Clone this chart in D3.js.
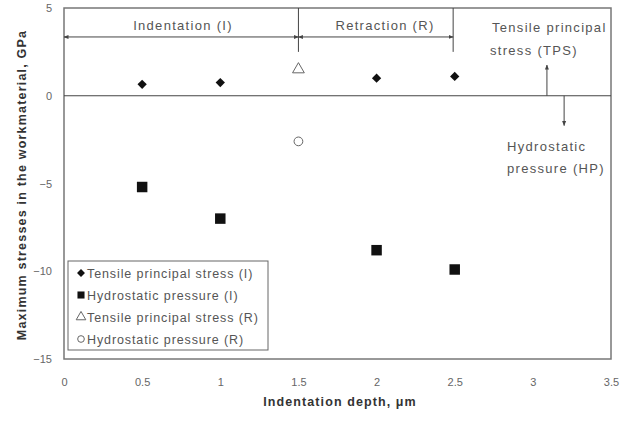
<!DOCTYPE html>
<html>
<head>
<meta charset="utf-8">
<script src="https://cdn.jsdelivr.net/npm/d3@7"></script>
<style>
  body { margin: 0; background: #fff; }
  text { font-family: "Liberation Sans", Arial, sans-serif; }
</style>
</head>
<body>
<script>
// Data
const tpsIDepth = [0.5, 1, 2, 2.5];
const tpsIValue = [0.65, 0.75, 1.0, 1.1];
const hpIDepth = [0.5, 1, 2, 2.5];
const hpIValue = [-5.2, -7.0, -8.8, -9.9];
const tpsRDepth = [1.5];
const tpsRValue = [1.5];
const hpRDepth = [1.5];
const hpRValue = [-2.6];
const xTicks = [0, 0.5, 1, 1.5, 2, 2.5, 3, 3.5];
const yTicks = [5, 0, -5, -10, -15];
const legendLabels = ['Tensile principal stress (I)', 'Hydrostatic pressure (I)',
  'Tensile principal stress (R)', 'Hydrostatic pressure (R)'];

const width = 637, height = 423;
const margin = { left: 64, right: 26, top: 8, bottom: 64 };

const svg = d3.select('body').append('svg')
    .attr('width', width)
    .attr('height', height);

const x = d3.scaleLinear().domain([0, 3.5]).range([margin.left, width - margin.right]);
const y = d3.scaleLinear().domain([-15, 5]).range([height - margin.bottom, margin.top]);

const ink = '#444';
const textCol = '#555';

// plot frame
svg.append('rect')
    .attr('x', x(0)).attr('y', y(5))
    .attr('width', x(3.5) - x(0)).attr('height', y(-15) - y(5))
    .attr('fill', 'none').attr('stroke', '#777').attr('stroke-width', 1.5);

// zero line
svg.append('line')
    .attr('x1', x(0)).attr('x2', x(3.5))
    .attr('y1', y(0)).attr('y2', y(0))
    .attr('stroke', ink).attr('stroke-width', 1.2);

// axes
const xAxis = svg.append('g')
    .attr('transform', `translate(0,${y(-15)})`)
    .call(d3.axisBottom(x).tickValues(xTicks).tickSize(0).tickPadding(19).tickFormat(d3.format('')));
const yAxis = svg.append('g')
    .attr('transform', `translate(${x(0)},0)`)
    .call(d3.axisLeft(y).tickValues(yTicks).tickSize(0).tickPadding(12));
[xAxis, yAxis].forEach(g => {
  g.select('.domain').remove();
  g.selectAll('text').attr('fill', '#666').style('font-size', '11px')
      .style('font-family', '"Liberation Sans", Arial, sans-serif');
});

// axis titles
svg.append('text')
    .attr('x', 340).attr('y', 406)
    .attr('text-anchor', 'middle')
    .attr('fill', '#333').style('font-size', '12.5px').style('font-weight', 'bold')
    .style('letter-spacing', '1.1px')
    .text('Indentation depth, \u03bcm');
svg.append('text')
    .attr('transform', `translate(26,185) rotate(-90)`)
    .attr('text-anchor', 'middle')
    .attr('fill', '#333').style('font-size', '12.5px').style('font-weight', 'bold')
    .style('letter-spacing', '1.2px')
    .text('Maximum stresses in the workmaterial, GPa');

// arrowheads
const defs = svg.append('defs');
defs.append('marker')
    .attr('id', 'arr').attr('viewBox', '0 0 10 10')
    .attr('refX', 9).attr('refY', 5)
    .attr('markerWidth', 5).attr('markerHeight', 5)
    .attr('orient', 'auto-start-reverse')
    .append('path').attr('d', 'M0,1L10,5L0,9Z').attr('fill', ink);

// Indentation / Retraction ranges
svg.append('line')
    .attr('x1', x(0)).attr('x2', x(1.5))
    .attr('y1', y(3.35)).attr('y2', y(3.35))
    .attr('stroke', ink).attr('marker-start', 'url(#arr)').attr('marker-end', 'url(#arr)');
svg.append('line')
    .attr('x1', x(1.5)).attr('x2', x(2.49))
    .attr('y1', y(3.35)).attr('y2', y(3.35))
    .attr('stroke', ink).attr('marker-start', 'url(#arr)').attr('marker-end', 'url(#arr)');
[1.5, 2.49].forEach(v => {
  svg.append('line')
      .attr('x1', x(v)).attr('x2', x(v))
      .attr('y1', y(5)).attr('y2', y(2.5))
      .attr('stroke', ink);
});
const annoStyle = sel => sel.attr('fill', textCol).style('font-size', '13px').style('letter-spacing', '1.3px');
svg.append('text')
    .attr('x', 183).attr('y', 30)
    .attr('text-anchor', 'middle')
    .call(annoStyle)
    .text('Indentation (I)');
svg.append('text')
    .attr('x', 385).attr('y', 30)
    .attr('text-anchor', 'middle')
    .call(annoStyle)
    .text('Retraction (R)');

// TPS / HP annotations
svg.append('line')
    .attr('x1', x(3.09)).attr('x2', x(3.09))
    .attr('y1', y(0)).attr('y2', y(1.75))
    .attr('stroke', ink).attr('marker-end', 'url(#arr)');
svg.append('line')
    .attr('x1', x(3.2)).attr('x2', x(3.2))
    .attr('y1', y(0)).attr('y2', y(-1.7))
    .attr('stroke', ink).attr('marker-end', 'url(#arr)');
svg.append('text')
    .attr('y', 32)
    .call(annoStyle)
    .selectAll('tspan').data(['Tensile principal', 'stress (TPS)']).join('tspan')
    .attr('x', (d, i) => i ? 490 : 492).attr('dy', (d, i) => i ? 23 : 0)
    .text(d => d);
svg.append('text')
    .attr('y', 151)
    .call(annoStyle)
    .selectAll('tspan').data(['Hydrostatic', 'pressure (HP)']).join('tspan')
    .attr('x', 507).attr('dy', (d, i) => i ? 22 : 0)
    .text(d => d);

// markers
const sym = (type, size) => d3.symbol().type(type).size(size);
const zip = (a, b) => a.map((d, i) => [d, b[i]]);

svg.append('g').selectAll('path').data(zip(tpsIDepth, tpsIValue)).join('path')
    .attr('transform', d => `translate(${x(d[0])},${y(d[1])})`)
    .attr('d', sym(d3.symbolDiamond2, 55)).attr('fill', '#111');
svg.append('g').selectAll('path').data(zip(hpIDepth, hpIValue)).join('path')
    .attr('transform', d => `translate(${x(d[0])},${y(d[1])})`)
    .attr('d', sym(d3.symbolSquare, 110)).attr('fill', '#111');
svg.append('g').selectAll('path').data(zip(tpsRDepth, tpsRValue)).join('path')
    .attr('transform', d => `translate(${x(d[0])},${y(d[1])})`)
    .attr('d', sym(d3.symbolTriangle, 60)).attr('fill', 'none').attr('stroke', '#666');
svg.append('g').selectAll('path').data(zip(hpRDepth, hpRValue)).join('path')
    .attr('transform', d => `translate(${x(d[0])},${y(d[1])})`)
    .attr('d', sym(d3.symbolCircle, 60)).attr('fill', 'none').attr('stroke', '#666');

// legend
const legend = svg.append('g').attr('transform', 'translate(68,261)');
legend.append('rect')
    .attr('width', 200).attr('height', 89)
    .attr('fill', '#fff').attr('stroke', '#666');
const legendSym = [
  { t: d3.symbolDiamond2, s: 40, fill: '#111', stroke: 'none' },
  { t: d3.symbolSquare, s: 50, fill: '#111', stroke: 'none' },
  { t: d3.symbolTriangle, s: 40, fill: 'none', stroke: '#666' },
  { t: d3.symbolCircle, s: 35, fill: 'none', stroke: '#666' }
];
const items = legend.selectAll('g').data(legendLabels).join('g')
    .attr('transform', (d, i) => `translate(0,${12 + i * 22})`);
items.append('path')
    .attr('transform', 'translate(13,0)')
    .attr('d', (d, i) => sym(legendSym[i].t, legendSym[i].s)())
    .attr('fill', (d, i) => legendSym[i].fill)
    .attr('stroke', (d, i) => legendSym[i].stroke);
items.append('text')
    .attr('x', 19).attr('y', 4.5)
    .attr('fill', textCol).style('font-size', '12.5px').style('letter-spacing', '0.9px')
    .text(d => d);
</script>
</body>
</html>
